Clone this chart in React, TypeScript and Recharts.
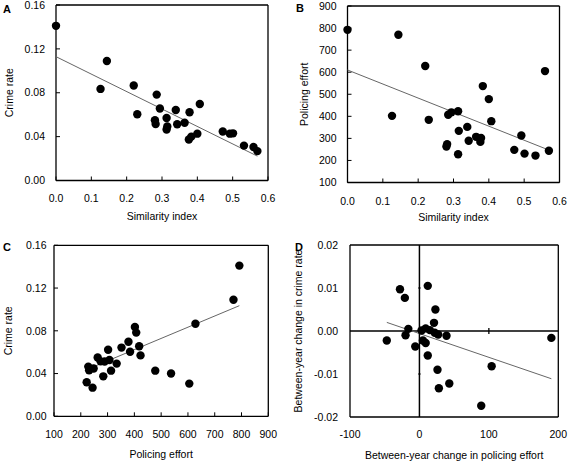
import React from "react";
import { ScatterChart, Scatter, XAxis, YAxis, ReferenceLine } from "recharts";

// one entry per city (panels A, B, C share these)
const similarity = [0.0, 0.144, 0.22, 0.126, 0.559, 0.383, 0.4, 0.285, 0.23, 0.407, 0.294, 0.313, 0.339, 0.378, 0.343, 0.364, 0.28, 0.282, 0.315, 0.313, 0.376, 0.472, 0.492, 0.501, 0.532, 0.57];
const crimeRate = [0.141, 0.109, 0.0866, 0.0835, 0.0306, 0.04, 0.0427, 0.0783, 0.0604, 0.0697, 0.0656, 0.057, 0.0643, 0.0622, 0.0513, 0.0527, 0.055, 0.0514, 0.0493, 0.0465, 0.0374, 0.0447, 0.0427, 0.043, 0.0318, 0.0268];
const policing = [792, 770, 628, 402, 605, 537, 478, 407, 384, 378, 418, 423, 352, 302, 289, 307, 263, 274, 334, 228, 284, 248, 313, 231, 222, 244];

// panel D: between-year changes
const policingChange = [-47, -28, -21, -16, -20, -6, 12, 23, 21, 3, 9, 15, 22, 27, 39, 5, 9, 12, 26, 28, 43, 89, 104, 190];
const crimeChange = [-0.0022, 0.0097, 0.0077, 0.0005, -0.001, -0.0036, 0.0105, 0.005, 0.0019, 0.0001, 0.0006, 0.0002, -0.0004, -0.0008, -0.0011, -0.0022, -0.0028, -0.0057, -0.009, -0.0133, -0.0122, -0.0174, -0.0082, -0.0016];

// fitted lines, end points
const trendAX = [0, 0.57];
const trendAY = [0.1129, 0.0222];
const trendBX = [0, 0.57];
const trendBY = [610, 247];
const trendCX = [222, 792];
const trendCY = [0.0437, 0.1035];
const trendDX = [-47, 190];
const trendDY = [0.002, -0.0111];

const simTicks = [0, 0.1, 0.2, 0.3, 0.4, 0.5, 0.6];
const crimeTicks = [0, 0.04, 0.08, 0.12, 0.16];
const policingTicks = [100, 200, 300, 400, 500, 600, 700, 800, 900];
const changePolTicks = [-100, 0, 100, 200];
const changeCrimeTicks = [-0.02, -0.01, 0, 0.01, 0.02];

const pairs = (xs: number[], ys: number[]) => xs.map((x, i) => ({ x, y: ys[i] }));

const dataA = pairs(similarity, crimeRate);
const dataB = pairs(similarity, policing);
const dataC = pairs(policing, crimeRate);
const dataD = pairs(policingChange, crimeChange);

const font = '"Liberation Sans", Arial, sans-serif';
const tickStyle = { fontSize: 10.5, fill: "#000", fontFamily: font };
const labelStyle = { fontSize: 10.5, fill: "#000", fontFamily: font };
const yLabelStyle = { ...labelStyle, textAnchor: "middle" as const };
const axisLine = { stroke: "#000", strokeWidth: 1.3 };
const tickLine = { stroke: "#000", strokeWidth: 1 };
const trendLine = { stroke: "#666", strokeWidth: 1 };

const dot = (p: any) => <circle cx={p.cx} cy={p.cy} r={4.2} fill="#000" />;
const noDot = () => <g />;

const f1 = (v: number) => v.toFixed(1);
const f2 = (v: number) => v.toFixed(2);

const Letter = ({ ch, x, y }: { ch: string; x: number; y: number }) => (
  <div style={{ position: "absolute", left: x, top: y, fontFamily: font, fontWeight: "bold", fontSize: 11, lineHeight: "11px" }}>{ch}</div>
);

const Box = ({ left, top, children }: { left: number; top: number; children: React.ReactNode }) => (
  <div style={{ position: "absolute", left, top, width: 285, height: 233 }}>{children}</div>
);

export default function App() {
  return (
    <div style={{ position: "absolute", left: 0, top: 0, width: 570, height: 466, background: "#fff" }}>
      <Box left={0} top={0}>
        <ScatterChart width={285} height={233} margin={{ top: 5, right: 17, bottom: 22.5, left: 0 }}>
          <XAxis type="number" dataKey="x" domain={[0, 0.6]} ticks={simTicks} tickFormatter={f1} interval={0}
            height={30} tickSize={-4} tickMargin={18} axisLine={axisLine} tickLine={tickLine} tick={tickStyle}
            label={{ value: "Similarity index", position: "bottom", offset: 2.5, style: labelStyle }} />
          <YAxis type="number" dataKey="y" domain={[0, 0.16]} ticks={crimeTicks} tickFormatter={f2} interval={0}
            width={56} tickSize={-4} tickMargin={15} axisLine={axisLine} tickLine={tickLine} tick={tickStyle}
            label={{ value: "Crime rate", angle: -90, position: "insideLeft", offset: 9, style: yLabelStyle }} />
          <ReferenceLine y={0.16} stroke="#000" strokeWidth={1.3} />
          <ReferenceLine x={0.6} stroke="#000" strokeWidth={1.3} />
          <Scatter data={pairs(trendAX, trendAY)} line={trendLine} shape={noDot} isAnimationActive={false} />
          <Scatter data={dataA} shape={dot} isAnimationActive={false} />
        </ScatterChart>
      </Box>

      <Box left={285} top={0}>
        <ScatterChart width={285} height={233} margin={{ top: 6, right: 10.5, bottom: 20.5, left: 0 }}>
          <XAxis type="number" dataKey="x" domain={[0, 0.6]} ticks={simTicks} tickFormatter={f1} interval={0}
            height={30} tickSize={-4} tickMargin={19} axisLine={axisLine} tickLine={tickLine} tick={tickStyle}
            label={{ value: "Similarity index", position: "bottom", offset: 1.5, style: labelStyle }} />
          <YAxis type="number" dataKey="y" domain={[100, 900]} ticks={policingTicks} interval={0}
            width={62.5} tickSize={-4} tickMargin={15} axisLine={axisLine} tickLine={tickLine} tick={tickStyle}
            label={{ value: "Policing effort", angle: -90, position: "insideLeft", offset: 19, style: yLabelStyle }} />
          <ReferenceLine y={900} stroke="#000" strokeWidth={1.3} />
          <ReferenceLine x={0.6} stroke="#000" strokeWidth={1.3} />
          <Scatter data={pairs(trendBX, trendBY)} line={trendLine} shape={noDot} isAnimationActive={false} />
          <Scatter data={dataB} shape={dot} isAnimationActive={false} />
        </ScatterChart>
      </Box>

      <Box left={0} top={233}>
        <ScatterChart width={285} height={233} margin={{ top: 12.3, right: 16.7, bottom: 19.7, left: 0 }}>
          <XAxis type="number" dataKey="x" domain={[100, 900]} ticks={policingTicks} interval={0}
            height={30} tickSize={-4} tickMargin={18.5} axisLine={axisLine} tickLine={tickLine} tick={tickStyle}
            label={{ value: "Policing effort", position: "bottom", offset: 4.7, style: labelStyle }} />
          <YAxis type="number" dataKey="y" domain={[0, 0.16]} ticks={crimeTicks} tickFormatter={f2} interval={0}
            width={54} tickSize={-4} tickMargin={11.5} axisLine={axisLine} tickLine={tickLine} tick={tickStyle}
            label={{ value: "Crime rate", angle: -90, position: "insideLeft", offset: 8.7, style: yLabelStyle }} />
          <ReferenceLine y={0.16} stroke="#000" strokeWidth={1.3} />
          <ReferenceLine x={900} stroke="#000" strokeWidth={1.3} />
          <Scatter data={pairs(trendCX, trendCY)} line={trendLine} shape={noDot} isAnimationActive={false} />
          <Scatter data={dataC} shape={dot} isAnimationActive={false} />
        </ScatterChart>
      </Box>

      <Box left={285} top={233}>
        <ScatterChart width={285} height={233} margin={{ top: 12, right: 11.7, bottom: 19, left: 0 }}>
          <XAxis type="number" dataKey="x" domain={[-100, 200]} ticks={changePolTicks} interval={0}
            height={30} tickSize={0} tickMargin={14} axisLine={axisLine} tickLine={false} tick={tickStyle}
            label={{ value: "Between-year change in policing effort", position: "bottom", offset: 4.7, style: labelStyle }} />
          <YAxis type="number" dataKey="y" domain={[-0.02, 0.02]} ticks={changeCrimeTicks} tickFormatter={f2} interval={0}
            width={65} tickSize={0} tickMargin={12} axisLine={axisLine} tickLine={false} tick={tickStyle}
            label={{ value: "Between-year change in crime rate", angle: -90, position: "insideLeft", offset: 13.3, style: yLabelStyle }} />
          <ReferenceLine y={0.02} stroke="#000" strokeWidth={1.3} />
          <ReferenceLine x={200} stroke="#000" strokeWidth={1.3} />
          <ReferenceLine y={0} stroke="#000" strokeWidth={1.5} />
          <ReferenceLine x={0} stroke="#000" strokeWidth={1.5} />
          <ReferenceLine segment={[{ x: -1.6, y: 0.01 }, { x: 1.6, y: 0.01 }]} stroke="#000" strokeWidth={1.3} />
          <ReferenceLine segment={[{ x: -1.6, y: -0.01 }, { x: 1.6, y: -0.01 }]} stroke="#000" strokeWidth={1.3} />
          <ReferenceLine segment={[{ x: 100, y: -0.0007 }, { x: 100, y: 0.0007 }]} stroke="#000" strokeWidth={1.3} />
          <Scatter data={pairs(trendDX, trendDY)} line={trendLine} shape={noDot} isAnimationActive={false} />
          <Scatter data={dataD} shape={dot} isAnimationActive={false} />
        </ScatterChart>
      </Box>

      <Letter ch="A" x={3} y={4} />
      <Letter ch="B" x={296} y={3} />
      <Letter ch="C" x={3} y={242} />
      <Letter ch="D" x={295} y={242} />
    </div>
  );
}
